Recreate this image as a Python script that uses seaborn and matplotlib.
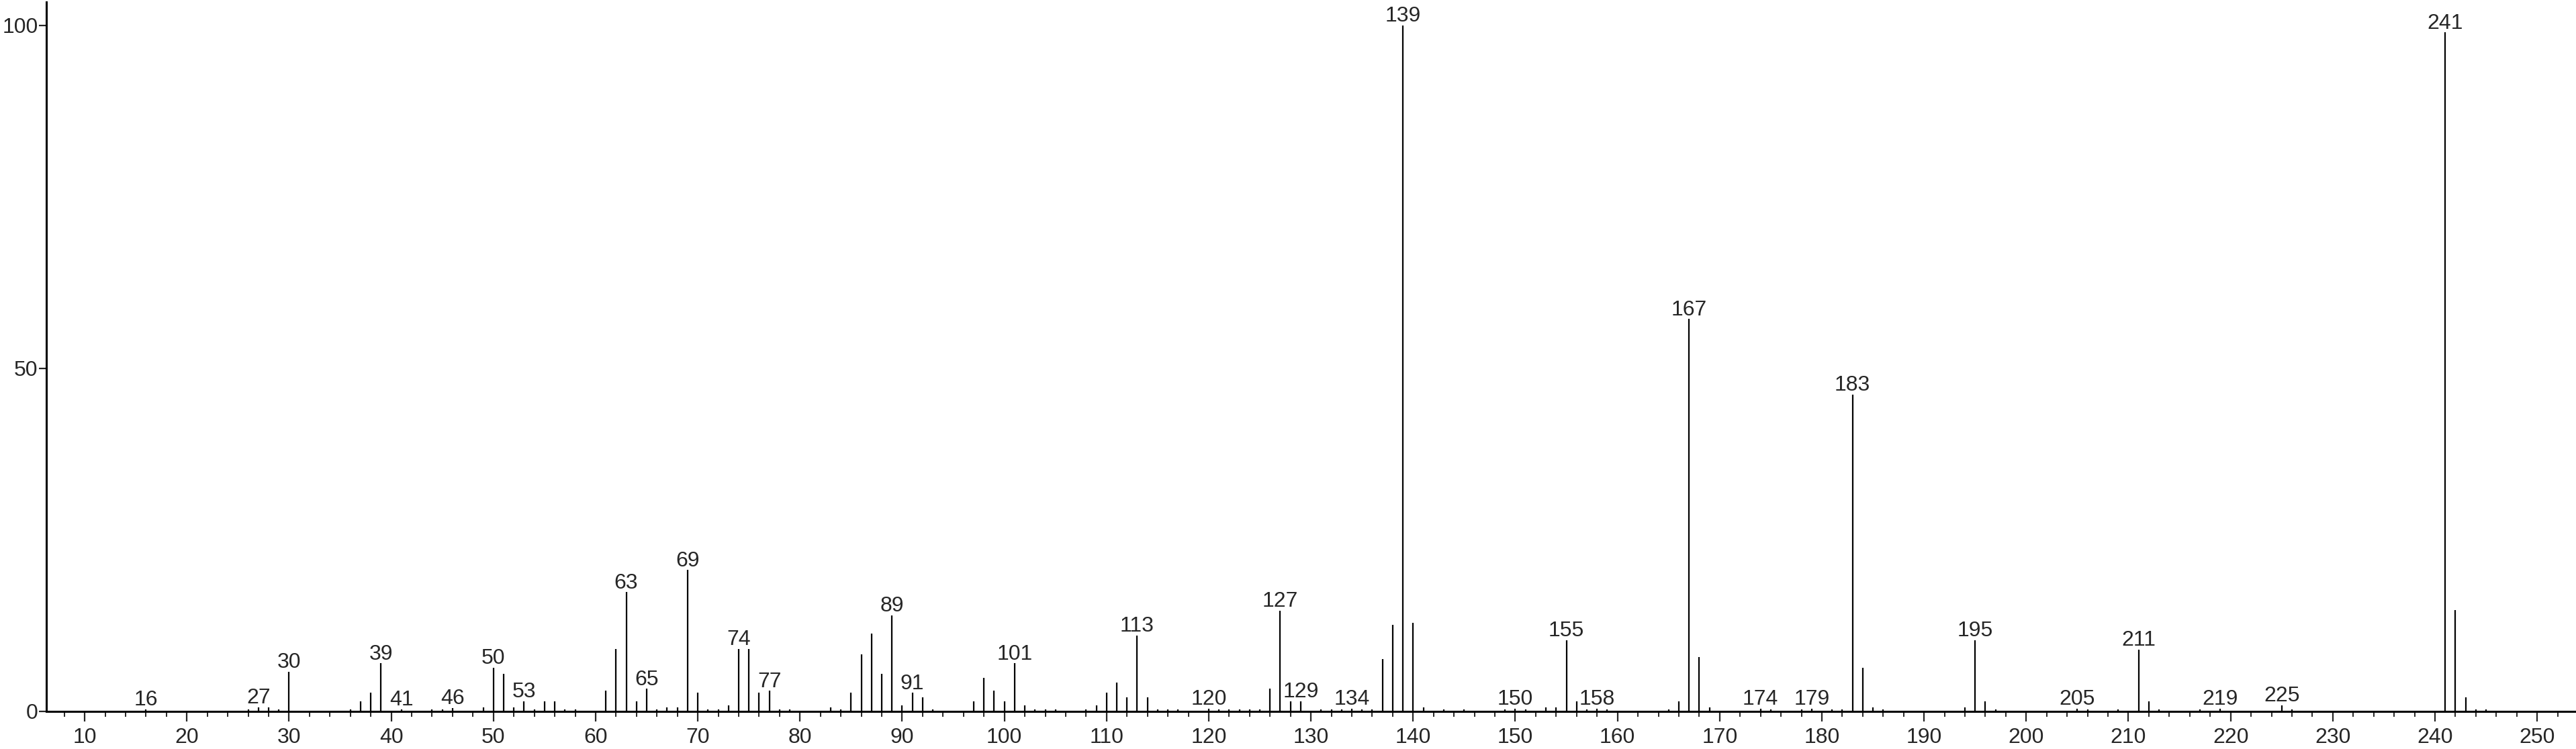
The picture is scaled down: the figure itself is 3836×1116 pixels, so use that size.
import pandas as pd
import seaborn as sns
import matplotlib.pyplot as plt
from matplotlib.ticker import MultipleLocator

# mass spectrum: m/z and relative intensity (%)
mz = [16, 26, 27, 28, 29, 30, 36, 37, 38, 39, 41, 44, 45, 46, 49, 50, 51, 52, 53, 54,
      55, 56, 57, 58, 61, 62, 63, 64, 65, 66, 67, 68, 69, 70, 71, 72, 73, 74, 75, 76,
      77, 78, 79, 83, 84, 85, 86, 87, 88, 89, 90, 91, 92, 93, 97, 98, 99, 100, 101, 102,
      103, 104, 105, 108, 109, 110, 111, 112, 113, 114, 115, 116, 117, 120, 121, 122, 123, 124, 125, 126,
      127, 128, 129, 131, 132, 133, 134, 135, 136, 137, 138, 139, 140, 141, 143, 145, 149, 150, 151, 153,
      154, 155, 156, 157, 158, 159, 165, 166, 167, 168, 169, 174, 175, 178, 179, 181, 182, 183, 184, 185,
      186, 194, 195, 196, 197, 205, 206, 209, 211, 212, 213, 217, 219, 225, 226, 241, 242, 243, 244, 245]
intensity = [0.3, 0.3, 0.6, 0.6, 0.3, 5.8, 0.3, 1.5, 2.7, 7.0, 0.3, 0.3, 0.3, 0.5, 0.6, 6.4, 5.5, 0.6, 1.5, 0.3,
             1.5, 1.5, 0.3, 0.3, 3.0, 9.1, 17.4, 1.5, 3.3, 0.3, 0.6, 0.6, 20.6, 2.7, 0.3, 0.3, 0.9, 9.1, 9.1, 2.7,
             3.0, 0.3, 0.3, 0.6, 0.3, 2.7, 8.3, 11.3, 5.5, 14.0, 0.9, 2.7, 2.1, 0.3, 1.5, 4.9, 3.0, 1.5, 7.0, 0.9,
             0.3, 0.3, 0.3, 0.3, 0.9, 2.7, 4.2, 2.1, 11.1, 2.1, 0.3, 0.3, 0.3, 0.4, 0.3, 0.3, 0.3, 0.3, 0.3, 3.3,
             14.7, 1.5, 1.5, 0.3, 0.3, 0.3, 0.4, 0.3, 0.3, 7.6, 12.6, 100.0, 12.9, 0.6, 0.3, 0.3, 0.3, 0.4, 0.3, 0.6,
             0.6, 10.4, 1.5, 0.3, 0.4, 0.3, 0.3, 1.5, 57.2, 7.9, 0.6, 0.4, 0.3, 0.3, 0.4, 0.3, 0.3, 46.2, 6.4, 0.6,
             0.3, 0.6, 10.4, 1.5, 0.3, 0.4, 0.3, 0.3, 9.0, 1.5, 0.3, 0.3, 0.4, 0.9, 0.3, 99.0, 14.8, 2.1, 0.3, 0.3]

labelled = [16, 27, 30, 39, 41, 46, 50, 53, 63, 65, 69, 74, 77, 89, 91, 101, 113, 120, 127, 129,
            134, 139, 150, 155, 158, 167, 174, 179, 183, 195, 205, 211, 219, 225, 241]

df = pd.DataFrame({'mz': mz, 'intensity': intensity})

sns.set_style('ticks')
plt.rcParams['font.family'] = ['Liberation Sans', 'DejaVu Sans']

fig = plt.figure(figsize=(38.36, 11.16), dpi=100)
ax = fig.add_axes([0.018, 0.0502, 0.982, 0.947])

ax.vlines(df['mz'], 0, df['intensity'], color='black', lw=1.6)

lookup = dict(zip(mz, intensity))
for m in labelled:
    ax.annotate(str(m), (m, lookup[m]), xytext=(0, 4), textcoords='offset points',
                ha='center', va='baseline', fontsize=23)

ax.set_xlim(6.25, 253.8)
ax.set_ylim(0, 103.4)
ax.xaxis.set_major_locator(MultipleLocator(10))
ax.xaxis.set_minor_locator(MultipleLocator(2))
ax.set_yticks([0, 50, 100])

ax.tick_params(axis='x', which='major', length=11, width=1.6, labelsize=23, pad=6, direction='out')
ax.tick_params(axis='x', which='minor', length=6, width=1.4, direction='out')
ax.tick_params(axis='y', length=8, width=1.6, labelsize=23, pad=1, direction='out')

sns.despine(ax=ax)
for s in ['left', 'bottom']:
    ax.spines[s].set_linewidth(2.2)
    ax.spines[s].set_color('black')

ax.set_xlabel('')
ax.set_ylabel('')

fig.savefig('out.png', dpi=100)
